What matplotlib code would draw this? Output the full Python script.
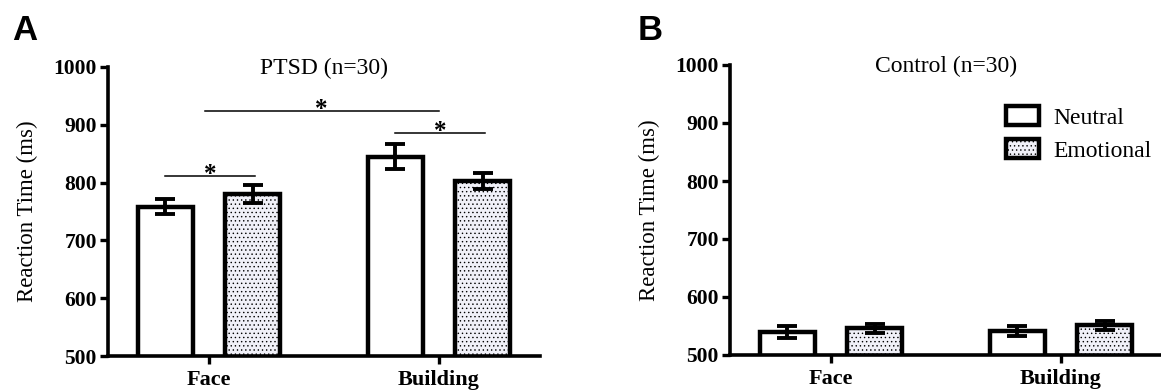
import numpy as np
import matplotlib
matplotlib.use("Agg")
import matplotlib.pyplot as plt
from matplotlib.patches import Patch

plt.rcParams['font.family'] = ['Liberation Serif', 'DejaVu Serif']
plt.rcParams['hatch.linewidth'] = 0.5

# Daten (Reaktionszeiten in ms)
categories = ['Face', 'Building']
conditions = ['Neutral', 'Emotional']

ptsd_neutral = [758, 845]
ptsd_neutral_se = [13, 22]
ptsd_emotional = [780, 803]
ptsd_emotional_se = [16, 14]

ctrl_neutral = [540, 541]
ctrl_neutral_se = [10, 9]
ctrl_emotional = [546, 551]
ctrl_emotional_se = [8, 8]

# Signifikanz: (x1, x2, y)
ptsd_sig = [(-0.19, 0.20, 811), (-0.02, 1.0, 924), (0.81, 1.20, 886)]

fig = plt.figure(figsize=(11.61, 3.92), dpi=100)
W, H = 1161., 392.

offset = 0.19
width = 0.24
lw = 3.2
emo_color = '#f0f0f8'

def panel(ax, neutral, neutral_se, emotional, emotional_se, title):
    x = np.arange(len(categories))
    ax.bar(x - offset, neutral, width, color='white', edgecolor='black',
           linewidth=lw, zorder=2)
    ax.bar(x + offset, emotional, width, color=emo_color, edgecolor='black',
           linewidth=lw, hatch='....', zorder=2)
    ax.errorbar(x - offset, neutral, yerr=neutral_se, fmt='none', ecolor='black',
                elinewidth=2.8, capsize=7, capthick=2.8, zorder=3)
    ax.errorbar(x + offset, emotional, yerr=emotional_se, fmt='none', ecolor='black',
                elinewidth=2.8, capsize=7, capthick=2.8, zorder=3)
    ax.set_xlim(-0.44, 1.44)
    ax.set_ylim(500, 1000)
    ax.set_yticks([500, 600, 700, 800, 900, 1000])
    ax.set_xticks(x)
    ax.set_xticklabels(categories, fontsize=16, fontweight='bold')
    for lab in ax.get_yticklabels():
        lab.set_fontsize(15.5)
        lab.set_fontweight('bold')
    ax.spines['top'].set_visible(False)
    ax.spines['right'].set_visible(False)
    ax.spines['left'].set_linewidth(2.6)
    ax.spines['bottom'].set_linewidth(2.6)
    ax.tick_params(axis='both', width=2.4, length=6, pad=2)
    ax.tick_params(axis='x', pad=4)
    ax.set_ylabel('Reaction Time (ms)', fontsize=16.5)
    ax.yaxis.set_label_coords(-0.162, 0.5)
    ax.text(0.5, 0.976, title, transform=ax.transAxes, ha='center',
            va='baseline', fontsize=17)

axA = fig.add_axes([108 / W, 1 - 356 / H, 432 / W, 289 / H])
panel(axA, ptsd_neutral, ptsd_neutral_se, ptsd_emotional, ptsd_emotional_se,
      'PTSD (n=30)')
for x1, x2, y in ptsd_sig:
    axA.plot([x1, x2], [y, y], color='black', lw=1.1, clip_on=False)
    axA.text((x1 + x2) / 2, y - 9, '*', ha='center', va='baseline',
             fontsize=18, fontweight='bold')

axB = fig.add_axes([730 / W, 1 - 355 / H, 432 / W, 290 / H])
panel(axB, ctrl_neutral, ctrl_neutral_se, ctrl_emotional, ctrl_emotional_se,
      'Control (n=30)')

handles = [Patch(facecolor='white', edgecolor='black', linewidth=lw),
           Patch(facecolor=emo_color, edgecolor='black', linewidth=lw, hatch='....')]
fig.legend(handles, conditions, loc='upper left',
           bbox_to_anchor=(1006 / W, 1 - 106 / H), frameon=False,
           fontsize=17, handlelength=1.4, handleheight=0.85, handletextpad=0.6,
           labelspacing=0.45, borderpad=0, borderaxespad=0)

fig.text(12 / W, 1 - 40 / H, 'A', fontsize=25, fontweight='bold',
         family='Liberation Sans', va='baseline')
fig.text(638 / W, 1 - 40 / H, 'B', fontsize=25, fontweight='bold',
         family='Liberation Sans', va='baseline')

fig.savefig('out.png', dpi=100)
